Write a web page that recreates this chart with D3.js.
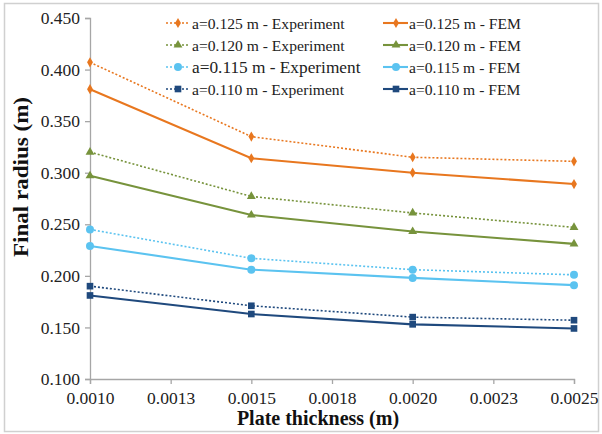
<!DOCTYPE html>
<html>
<head>
<meta charset="utf-8">
<script src="https://cdn.jsdelivr.net/npm/d3@7"></script>
<style>
  html, body { margin: 0; padding: 0; background: #fff; }
  svg { display: block; }
  svg text { font-family: "Liberation Serif", "Times New Roman", serif; }
</style>
</head>
<body>
<svg id="chart" width="602" height="434"></svg>
<script>
// Plate thickness (m) at which the final radius was measured / computed
const thickness = [0.0010, 0.0015, 0.0020, 0.0025];

// Final radius (m), experiment and FEM, for each initial radius a
const exp125 = [0.407, 0.335, 0.315, 0.311];
const fem125 = [0.381, 0.314, 0.300, 0.289];
const exp120 = [0.320, 0.277, 0.261, 0.247];
const fem120 = [0.297, 0.259, 0.243, 0.231];
const exp115 = [0.245, 0.217, 0.206, 0.201];
const fem115 = [0.229, 0.206, 0.198, 0.191];
const exp110 = [0.190, 0.171, 0.160, 0.157];
const fem110 = [0.181, 0.163, 0.153, 0.149];

const xTicks = [0.0010, 0.00125, 0.0015, 0.00175, 0.0020, 0.00225, 0.0025];
const xTickLabels = ["0.0010", "0.0013", "0.0015", "0.0018", "0.0020", "0.0023", "0.0025"];
const yTicks = [0.100, 0.150, 0.200, 0.250, 0.300, 0.350, 0.400, 0.450];

const seriesNames = [
  "a=0.125 m - Experiment", "a=0.125 m - FEM",
  "a=0.120 m - Experiment", "a=0.120 m - FEM",
  "a=0.115 m - Experiment", "a=0.115 m - FEM",
  "a=0.110 m - Experiment", "a=0.110 m - FEM"
];

const colors = { a125: "#e8771f", a120: "#77933c", a115: "#5bc3f0", a110: "#1f497d" };

const series = [
  { name: seriesNames[0], values: exp125, color: colors.a125, marker: "diamond", dotted: true },
  { name: seriesNames[1], values: fem125, color: colors.a125, marker: "diamond", dotted: false },
  { name: seriesNames[2], values: exp120, color: colors.a120, marker: "triangle", dotted: true },
  { name: seriesNames[3], values: fem120, color: colors.a120, marker: "triangle", dotted: false },
  { name: seriesNames[4], values: exp115, color: colors.a115, marker: "circle", dotted: true },
  { name: seriesNames[5], values: fem115, color: colors.a115, marker: "circle", dotted: false },
  { name: seriesNames[6], values: exp110, color: colors.a110, marker: "square", dotted: true },
  { name: seriesNames[7], values: fem110, color: colors.a110, marker: "square", dotted: false }
];

const svg = d3.select("#chart");

// chart area frame
svg.append("rect")
  .attr("x", 4.5).attr("y", 3.5)
  .attr("width", 594).attr("height", 428)
  .attr("fill", "#fff")
  .attr("stroke", "#d0d0d0")
  .attr("stroke-width", 1.5);

const x = d3.scaleLinear().domain([0.0010, 0.0025]).range([90, 574]);
const y = d3.scaleLinear().domain([0.100, 0.450]).range([379, 18]);

const axisColor = "#a6a6a6";

// y axis
const gy = svg.append("g")
  .attr("transform", "translate(90,0)")
  .call(d3.axisLeft(y).tickValues(yTicks).tickFormat(d3.format(".3f")).tickSize(5).tickPadding(5));
gy.attr("font-family", null).attr("font-size", null);
gy.select(".domain").attr("stroke", axisColor).attr("stroke-width", 1.3);
gy.selectAll(".tick line").attr("stroke", axisColor).attr("stroke-width", 1.3);
gy.selectAll(".tick text")
  .attr("fill", "#222")
  .style("font-size", "17.5px");

// x axis
const gx = svg.append("g")
  .attr("transform", "translate(0,379)")
  .call(d3.axisBottom(x).tickValues(xTicks).tickFormat((d, i) => xTickLabels[i]).tickSize(5).tickPadding(8));
gx.attr("font-family", null).attr("font-size", null);
gx.select(".domain").attr("stroke", axisColor).attr("stroke-width", 1.3);
gx.selectAll(".tick line").attr("stroke", axisColor).attr("stroke-width", 1.3);
gx.selectAll(".tick text")
  .attr("fill", "#222")
  .style("font-size", "17.5px");

// axis titles
svg.append("text")
  .attr("x", 318).attr("y", 425)
  .attr("text-anchor", "middle")
  .style("font-weight", "bold")
  .style("font-size", "20px")
  .attr("fill", "#111")
  .text("Plate thickness (m)");

svg.append("text")
  .attr("transform", "translate(28,177) rotate(-90)")
  .attr("text-anchor", "middle")
  .style("font-weight", "bold")
  .style("font-size", "20px")
  .attr("fill", "#111")
  .attr("textLength", 160)
  .attr("lengthAdjust", "spacingAndGlyphs")
  .text("Final radius (m)");

// marker shapes
const symbolOf = {
  diamond: d3.symbol().type(d3.symbolDiamond).size(30),
  triangle: d3.symbol().type(d3.symbolTriangle).size(34),
  circle: d3.symbol().type(d3.symbolCircle).size(50),
  square: d3.symbol().type(d3.symbolSquare).size(44)
};

const line = d3.line()
  .x((d, i) => x(thickness[i]))
  .y(d => y(d));

// draw experiment series first, FEM on top
const order = [0, 2, 4, 6, 1, 3, 5, 7];
order.forEach(k => {
  const s = series[k];
  const g = svg.append("g");
  g.append("path")
    .datum(s.values)
    .attr("d", line)
    .attr("fill", "none")
    .attr("stroke", s.color)
    .attr("stroke-width", s.dotted ? 1.6 : 2.1)
    .attr("stroke-dasharray", s.dotted ? "2,2" : null);
  g.selectAll("path.m")
    .data(s.values)
    .enter().append("path")
    .attr("class", "m")
    .attr("d", symbolOf[s.marker])
    .attr("transform", (d, i) => `translate(${x(thickness[i])},${y(d)})`)
    .attr("fill", s.color);
});

// legend: two columns, experiment on the left, FEM on the right
const legendRows = [0, 1, 2, 3];
const legendCols = [
  { lineX0: 166, lineX1: 189, markX: 178, textX: 192 },
  { lineX0: 383, lineX1: 408, markX: 396, textX: 409 }
];
legendRows.forEach(r => {
  const ly = 23 + r * 22;
  legendCols.forEach((c, ci) => {
    const s = series[r * 2 + ci];
    const g = svg.append("g");
    g.append("line")
      .attr("x1", c.lineX0).attr("x2", c.lineX1)
      .attr("y1", ly).attr("y2", ly)
      .attr("stroke", s.color)
      .attr("stroke-width", s.dotted ? 1.6 : 2.1)
      .attr("stroke-dasharray", s.dotted ? "2,2" : null);
    g.append("path")
      .attr("d", symbolOf[s.marker])
      .attr("transform", `translate(${c.markX},${ly})`)
      .attr("fill", s.color);
    g.append("text")
      .attr("x", c.textX).attr("y", ly + 5.5)
      .style("font-size", (r === 2 && ci === 0) ? "17.3px" : "15.6px")
      .attr("fill", "#222")
      .text(s.name);
  });
});
</script>
</body>
</html>
